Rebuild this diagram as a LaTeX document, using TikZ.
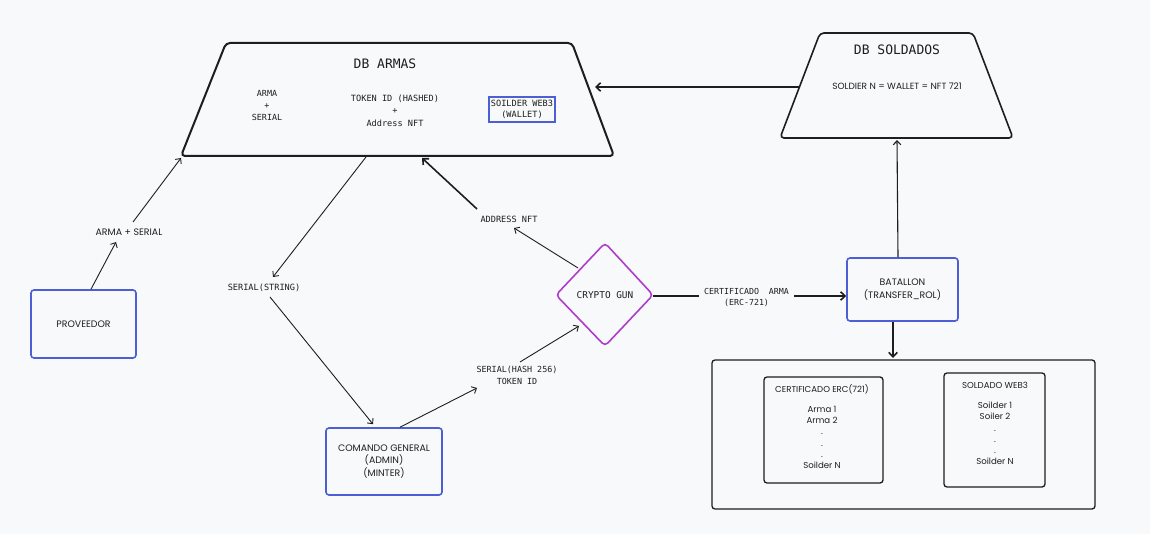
\documentclass[tikz,border=0pt]{standalone}
\usepackage{fontspec}
\setmainfont{Poppins}
\setmonofont{DejaVu Sans Mono}
\usetikzlibrary{arrows.meta}
\definecolor{bg}{HTML}{F8F9FA}
\definecolor{bluebox}{HTML}{4C5FD7}
\definecolor{purp}{HTML}{AE3EC9}
\definecolor{ink}{HTML}{1E1E1E}
\begin{document}
\begin{tikzpicture}[x=1pt,y=-1pt,
  mono/.style={font=\ttfamily\fontsize{8.6}{12.5}\selectfont, text=ink, align=center, inner sep=1pt},
  hand/.style={font=\fontsize{9.4}{12.5}\selectfont, text=ink, align=center, inner sep=1pt},
  small/.style={font=\fontsize{8.6}{11.2}\selectfont, text=ink, align=center, inner sep=1pt},
  bbox/.style={draw=bluebox, line width=1.6pt, rounded corners=3pt},
  kbox/.style={draw=ink, line width=1.3pt, rounded corners=3pt},
  arr/.style={draw=ink, line width=0.9pt, -{Straight Barb[length=4pt,width=7.5pt]}},
  tarr/.style={draw=ink, line width=1.6pt, -{Straight Barb[length=4.5pt,width=8.5pt]}}]
\fill[bg] (0,0) rectangle (1150,534);
\useasboundingbox (0,0) rectangle (1150,534);

% DB ARMAS
\draw[ink, line width=2pt, rounded corners=4pt] (226,43) -- (572,43) -- (614,156) -- (181,156) -- cycle;
\node[mono, font=\ttfamily\fontsize{13}{15}\selectfont] (armastitle) at (385,64) {DB ARMAS};
\node[mono, font=\ttfamily\fontsize{8.4}{12}\selectfont] (armaserial) at (267,106) {ARMA\\+\\SERIAL};
\node[mono] (tokenid) at (395,110.5) {TOKEN ID (HASHED)\\+\\Address NFT};
\node[mono, draw=bluebox, line width=1.2pt, inner sep=0pt, minimum width=66, minimum height=25,
      font=\ttfamily\fontsize{8.6}{11.5}\selectfont] (wallet) at (522,109.5) {SOILDER WEB3\\(WALLET)};
\coordinate (armasR) at (595,87);
\coordinate (armasBL) at (181,158);
\coordinate (armasB1) at (366,157);
\coordinate (armasB2) at (422,158);

% DB SOLDADOS
\draw[ink, line width=1.6pt, rounded corners=4pt] (820,33) -- (973,33) -- (1013,138) -- (780,138) -- cycle;
\node[mono, font=\ttfamily\fontsize{13}{15}\selectfont] (soltitle) at (897,50) {DB SOLDADOS};
\node[hand, font=\fontsize{9}{10}\selectfont] (soldier) at (897,86) {SOLDIER N = WALLET = NFT 721};
\coordinate (solL) at (799,87);
\coordinate (solB) at (897,140);

% PROVEEDOR
\node[hand, bbox, minimum width=105, minimum height=68] (prov) at (83.5,324) {PROVEEDOR};
\node[hand] (lblarma) at (129,232) {ARMA + SERIAL};
\draw[arr] ([xshift=7.5pt]prov.north) -- (116,242);
\draw[arr] (133,222) -- (armasBL);

% SERIAL(STRING)
\node[mono] (lblstring) at (264,288) {SERIAL(STRING)};
\draw[arr] (armasB1) -- (273,277);
\node[hand, bbox, minimum width=116, minimum height=67] (comando) at (384,461.5) {COMANDO GENERAL\\(ADMIN)\\(MINTER)};
\draw[arr] (270,297) -- ([xshift=-11pt,yshift=3pt]comando.north);

% SERIAL(HASH 256)
\node[mono, font=\ttfamily\fontsize{8.4}{12}\selectfont] (lblhash) at (517,375) {SERIAL(HASH 256)\\TOKEN ID};
\draw[arr] ([xshift=16pt]comando.north) -- (477,388);

% CRYPTO GUN
\coordinate (cg) at (605,295);
\draw[purp, line width=1.6pt, rounded corners=4pt] (556,295) -- (605,243) -- (653,295) -- (605,346) -- cycle;
\node[mono, font=\ttfamily\fontsize{9.4}{11}\selectfont] (crypto) at (605,295) {CRYPTO GUN};
\coordinate (cgE) at (653,296);
\coordinate (cgUL) at (578,268);
\coordinate (cgLL) at (579,326);
\draw[arr] (520,362) -- (cgLL);

% ADDRESS NFT
\node[mono] (lbladdr) at (509,219) {ADDRESS NFT};
\draw[arr] (cgUL) -- (514,228);
\draw[tarr] (477,209) -- (armasB2);

% CERTIFICADO ARMA
\node[mono, font=\ttfamily\fontsize{8.3}{11}\selectfont, inner xsep=5pt] (lblcert) at (746.5,297.5) {CERTIFICADO\ \ ARMA\\(ERC-721)};
\node[hand, bbox, minimum width=111, minimum height=63] (batallon) at (902.5,289.5) {BATALLON\\(TRANSFER\_ROL)};
\draw[ink, line width=1.6pt] (cgE) -- (lblcert.west |- cgE);
\draw[tarr] (lblcert.east |- cgE) -- (batallon.west |- cgE);

% arrows to/from DB SOLDADOS
\draw[tarr] (solL) -- (armasR);
\draw[arr, line width=1.1pt] ([xshift=-4.5pt]batallon.north) -- (solB);

% bottom container
\draw[kbox] (712,360) rectangle (1095,509);
\coordinate (bigTop) at (893,358);
\draw[tarr] ([xshift=-9.5pt]batallon.south) -- (bigTop);

\node[small, kbox, minimum width=119, minimum height=106] (cert) at (823.5,430) {};
\node[small] (certtitle) at (822,389) {CERTIFICADO ERC(721)};
\node[small, anchor=north] (certlist) at (822,405) {Arma 1\\Arma 2\\.\\.\\.\\Soilder N};

\node[small, kbox, minimum width=101, minimum height=114] (soldado) at (994.5,430) {};
\node[small] (soltitle2) at (995,385) {SOLDADO WEB3};
\node[small, anchor=north] (sollist) at (995,401) {Soilder 1\\Soiler 2\\.\\.\\.\\Soilder N};
\end{tikzpicture}
\end{document}
